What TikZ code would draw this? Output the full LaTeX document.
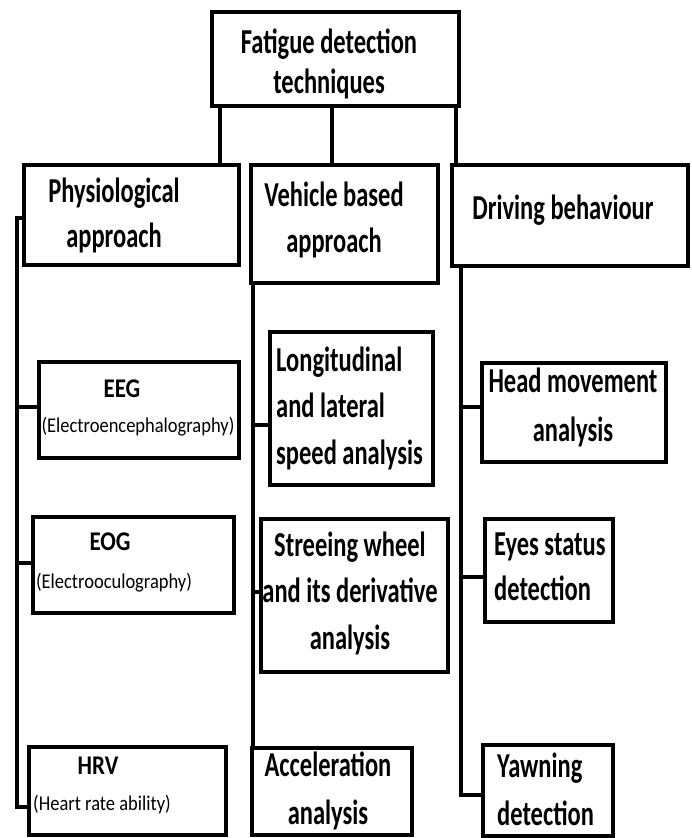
\documentclass[tikz,border=0pt]{standalone}
\usepackage{fontspec}
\setmainfont{Carlito}
\newfontfamily\condbig[FakeStretch=0.7]{Carlito}
\newfontfamily\condmid[FakeStretch=0.85]{Carlito}
\newfontfamily\condsmall[FakeStretch=0.88]{Carlito}
\begin{document}
\begin{tikzpicture}[x=1pt,y=1pt,
  box/.style={draw=black,line width=4pt,rectangle,inner sep=0pt,fill=white},
  conn/.style={draw=black,line width=3.6pt,line cap=rect,line join=miter},
  big/.style={inner sep=0pt,font=\condbig\fontsize{35}{46}\selectfont\bfseries},
  mid/.style={inner sep=0pt,font=\condmid\fontsize{27}{30}\selectfont\bfseries},
  small/.style={inner sep=0pt,font=\condsmall\fontsize{21}{24}\selectfont}]
\useasboundingbox (0,0) rectangle (692,-838);
\fill[white] (0,0) rectangle (692,-838);

% connector coordinates
\coordinate (xa) at (220,0);
\coordinate (xb) at (332,0);
\coordinate (xc) at (456,0);
\coordinate (pTop) at (17,-218);
\coordinate (pBot) at (17,-807);
\coordinate (pE) at (17,-407);
\coordinate (pO) at (17,-563);
\coordinate (vx) at (253,0);
\coordinate (vL) at (253,-425);
\coordinate (vS) at (253,-592);
\coordinate (dx) at (461,0);
\coordinate (dBot) at (461,-795);
\coordinate (dH) at (461,-407);
\coordinate (dE) at (461,-577);

% boxes
\node[box,minimum width=247,minimum height=94] (top) at (335.5,-59) {};
\node[box,minimum width=215,minimum height=100] (phys) at (131.5,-215) {};
\node[box,minimum width=187,minimum height=118] (veh) at (344.5,-224) {};
\node[box,minimum width=236,minimum height=101] (drv) at (570,-215.5) {};
\node[box,minimum width=200,minimum height=96] (eeg) at (139,-410) {};
\node[box,minimum width=163,minimum height=153] (lon) at (351.5,-408.5) {};
\node[box,minimum width=184,minimum height=99] (head) at (574,-412.5) {};
\node[box,minimum width=201,minimum height=96] (eog) at (133.5,-565) {};
\node[box,minimum width=187,minimum height=153] (str) at (354.5,-595.5) {};
\node[box,minimum width=128,minimum height=103] (eye) at (549,-570.5) {};
\node[box,minimum width=197,minimum height=88] (hrv) at (127.5,-791) {};
\node[box,minimum width=160,minimum height=87] (acc) at (332,-791.5) {};
\node[box,minimum width=130,minimum height=91] (yaw) at (548,-790.5) {};

% connectors
\draw[conn] (top.south -| xa) -- (phys.north -| xa);
\draw[conn] (top.south -| xb) -- (veh.north -| xb);
\draw[conn] (top.south -| xc) -- (drv.north -| xc);

\draw[conn] (phys.west |- pTop) -- (pTop) -- (pBot) -- (hrv.west |- pBot);
\draw[conn] (pE) -- (eeg.west |- pE);
\draw[conn] (pO) -- (eog.west |- pO);

\draw[conn] (veh.south -| vx) -- (acc.north -| vx);
\draw[conn] (vL) -- (lon.west |- vL);
\draw[conn] (vS) -- (str.west |- vS);

\draw[conn] (drv.south -| dx) -- (dBot) -- (yaw.west |- dBot);
\draw[conn] (dH) -- (head.west |- dH);
\draw[conn] (dE) -- (eye.west |- dE);

% texts
\node[big,align=center,font=\condbig\fontsize{35}{40}\selectfont\bfseries] (topT) at (329,-64) {Fatigue detection\\techniques};
\node[big,align=center,font=\condbig\fontsize{35}{45}\selectfont\bfseries] (physT) at (114,-215) {Physiological\\approach};
\node[big,align=center] (vehT) at (334,-220) {Vehicle based\\approach};
\node[big] (drvT) at (563,-210) {Driving behaviour};
\node[mid] (eegA) at (122,-389) {EEG};
\node[small] (eegB) at (138,-427) {(Electroencephalography)};
\node[big,align=left,anchor=west,font=\condbig\fontsize{35}{46.5}\selectfont\bfseries] (lonT) at (276,-408) {Longitudinal\\and lateral\\speed analysis};
\node[big,align=center,font=\condbig\fontsize{35}{49}\selectfont\bfseries] (headT) at (573,-407) {Head movement\\analysis};
\node[mid] (eogA) at (110,-542) {EOG};
\node[small] (eogB) at (114,-583) {(Electrooculography)};
\node[big,align=center,font=\condbig\fontsize{35}{46.5}\selectfont\bfseries] (strT) at (350,-593) {Streeing wheel\\and its derivative\\analysis};
\node[big,align=left,anchor=west,font=\condbig\fontsize{35}{45}\selectfont\bfseries] (eyeT) at (494,-567) {Eyes status\\detection};
\node[mid] (hrvA) at (98,-766) {HRV};
\node[small] (hrvB) at (102,-805) {(Heart rate ability)};
\node[big,align=center,font=\condbig\fontsize{35}{48}\selectfont\bfseries] (accT) at (328,-791) {Acceleration\\analysis};
\node[big,align=left,anchor=west,font=\condbig\fontsize{35}{48}\selectfont\bfseries] (yawT) at (497,-789) {Yawning\\detection};
\end{tikzpicture}
\end{document}
